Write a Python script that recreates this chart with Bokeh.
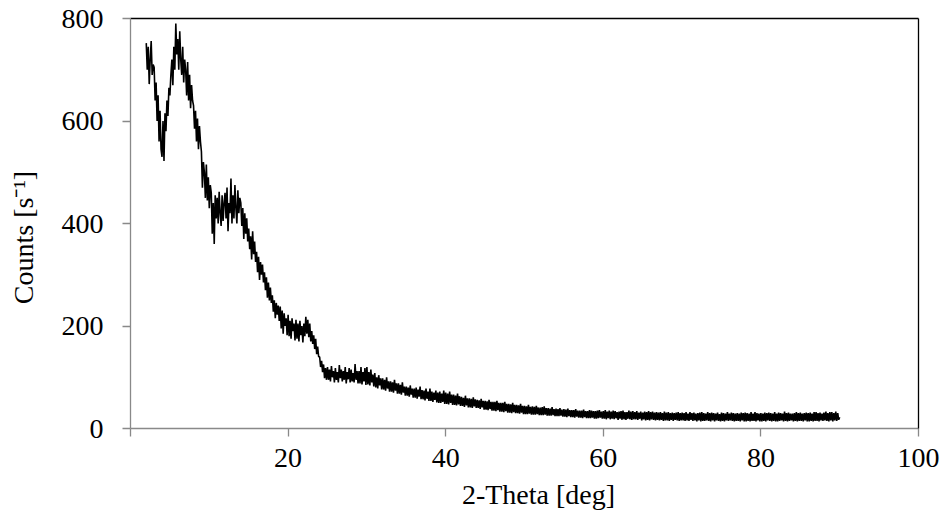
import numpy as np
from bokeh.plotting import figure
from bokeh.models import LinearAxis, FixedTicker, Range1d
from bokeh.embed import file_html
from bokeh.resources import INLINE

# Measured diffraction counts, sampled every 0.125 deg starting at 2.0 deg
theta_start = 2.0
theta_step = 0.125
counts = [
    752, 700, 745, 672, 720, 756, 690, 710,   # 2
    705, 640, 675, 600, 650, 560, 620, 545,   # 3
    530, 600, 522, 615, 580, 640, 610, 665,   # 4
    650, 690, 720, 670, 745, 700, 790, 730,   # 5
    760, 700, 775, 720, 690, 745, 675, 720,   # 6
    700, 650, 715, 640, 690, 625, 670, 640,   # 7
    630, 585, 620, 560, 605, 545, 590, 560,   # 8
    540, 470, 520, 500, 450, 515, 445, 490,   # 9
    430, 475, 460, 380, 440, 360, 455, 410,   # 10
    450, 400, 462, 420, 395, 455, 405, 440,   # 11
    460, 410, 470, 385, 440, 420, 488, 400,   # 12
    455, 410, 475, 430, 400, 465, 420, 450,   # 13
    440, 395, 430, 370, 420, 380, 410, 365,   # 14
    390, 350, 375, 330, 385, 340, 365, 325,   # 15
    345, 305, 335, 290, 325, 300, 320, 285,   # 16
    305, 270, 295, 255, 285, 250, 275, 245,   # 17
    260, 228, 250, 215, 245, 222, 240, 210,   # 18
    238, 195, 230, 185, 225, 200, 215, 182,   # 19
    222, 180, 210, 175, 215, 190, 205, 172,   # 20
    212, 175, 205, 170, 210, 182, 200, 168,   # 21
    205, 180, 218, 185, 212, 178, 205, 170,   # 22
    190, 165, 182, 155, 175, 145, 160, 140,   # 23
    140, 120, 132, 110, 125, 98, 118, 95,     # 24
    120, 95, 115, 92, 122, 100, 112, 90,      # 25
    118, 95, 110, 90, 124, 98, 115, 92,       # 26
    112, 95, 120, 88, 110, 96, 118, 90,       # 27
    115, 92, 108, 90, 126, 95, 112, 88,       # 28
    112, 88, 120, 86, 110, 92, 118, 85,       # 29
    120, 86, 110, 84, 115, 90, 105, 82,       # 30
    108, 80, 100, 78, 104, 84, 98, 76,        # 31
    98, 76, 95, 74, 100, 78, 92, 72,          # 32
    92, 72, 90, 70, 95, 74, 88, 68,           # 33
    88, 68, 85, 66, 90, 70, 82, 64,           # 34
    82, 64, 80, 62, 84, 66, 78, 60,           # 35
    78, 60, 80, 58, 76, 62, 82, 57,           # 36
    75, 57, 74, 55, 78, 58, 72, 54,           # 37
    78, 54, 72, 52, 70, 56, 74, 51,           # 38
    70, 50, 72, 50, 68, 52, 74, 48,           # 39
    70, 48, 68, 47, 72, 50, 66, 46,           # 40
    66, 46, 64, 45, 68, 47, 63, 44,           # 41
    62, 44, 60, 42, 64, 45, 59, 41,           # 42
    59, 41, 58, 40, 61, 43, 57, 40,           # 43
    56, 40, 55, 38, 58, 41, 54, 37,           # 44
    54, 37, 53, 36, 56, 38, 52, 35,           # 45
    52, 35, 52, 34, 54, 36, 50, 33,           # 46
    50, 33, 50, 32, 52, 34, 48, 31,           # 47
    48, 31, 47, 30, 50, 32, 46, 30,           # 48
    46, 30, 45, 29, 48, 31, 44, 28,           # 49
    44, 28, 43, 28, 46, 29, 42, 27,           # 50
    43, 27, 42, 27, 44, 28, 41, 26,           # 51
    41, 26, 42, 26, 43, 27, 40, 25,           # 52
    40, 25, 39, 25, 42, 26, 38, 24,           # 53
    39, 24, 38, 24, 40, 25, 37, 23,           # 54
    38, 23, 37, 22, 39, 24, 36, 22,           # 55
    36, 22, 36, 21, 38, 23, 35, 21,           # 56
    35, 21, 35, 20, 37, 22, 34, 20,           # 57
    34, 20, 36, 20, 35, 21, 34, 19,           # 58
    34, 19, 35, 20, 36, 21, 33, 19,           # 59
    34, 19, 36, 18, 33, 20, 35, 18,           # 60
    33, 19, 35, 18, 34, 20, 32, 17,           # 61
    33, 19, 34, 17, 35, 18, 32, 17,           # 62
    32, 19, 35, 18, 33, 17, 34, 18,           # 63
    32, 18, 34, 17, 31, 19, 33, 16,           # 64
    31, 18, 33, 16, 32, 17, 34, 16,           # 65
    32, 18, 33, 17, 31, 16, 32, 17,           # 66
    31, 16, 32, 17, 30, 15, 33, 16,           # 67
    31, 16, 32, 15, 30, 17, 31, 15,           # 68
    30, 17, 31, 16, 32, 15, 30, 16,           # 69
    31, 16, 30, 15, 32, 16, 29, 15,           # 70
    32, 17, 30, 15, 31, 16, 29, 14,           # 71
    30, 16, 31, 14, 32, 15, 30, 15,           # 72
    29, 16, 32, 15, 30, 14, 31, 16,           # 73
    30, 14, 29, 16, 31, 15, 28, 14,           # 74
    31, 15, 30, 14, 29, 16, 32, 15,           # 75
    29, 16, 31, 15, 30, 14, 29, 15,           # 76
    30, 15, 29, 14, 31, 16, 30, 14,           # 77
    31, 14, 30, 15, 29, 14, 32, 15,           # 78
    29, 15, 32, 14, 30, 16, 29, 14,           # 79
    30, 14, 29, 15, 31, 14, 30, 16,           # 80
    31, 15, 30, 14, 29, 15, 32, 14,           # 81
    29, 14, 31, 15, 30, 16, 29, 14,           # 82
    33, 15, 30, 14, 31, 15, 29, 16,           # 83
    29, 14, 30, 15, 32, 14, 30, 15,           # 84
    31, 15, 29, 14, 30, 16, 31, 14,           # 85
    30, 14, 31, 15, 29, 14, 32, 15,           # 86
    32, 15, 30, 14, 31, 16, 29, 15,           # 87
    31, 16, 33, 15, 30, 14, 32, 16,           # 88
    32, 14, 30, 16, 33, 15, 30, 17,           # 89
    22,                                       # 90
]
theta = [theta_start + theta_step * i for i in range(len(counts))]

x_ticks = [0, 20, 40, 60, 80, 100]
y_ticks = [0, 200, 400, 600, 800]
x_title = "\u00a0\u00a0\u00a0\u00a02-Theta [deg]"
y_title = "Counts [s\u207b\u00b9]\u00a0\u00a0\u00a0\u00a0"

FONT = "Liberation Serif"
AXIS_GRAY = "#898989"

p = figure(width=942, height=521, output_backend="svg", toolbar_location=None,
           x_range=Range1d(0, 100), y_range=Range1d(0, 800),
           min_border_left=130, min_border_right=24,
           min_border_top=18, min_border_bottom=93)

p.line(theta, counts, line_color="black", line_width=1.6)

p.grid.visible = False
p.outline_line_color = None
p.background_fill_color = "white"
p.border_fill_color = "white"

xa = p.xaxis[0]
xa.ticker = FixedTicker(ticks=x_ticks)
xa.major_label_overrides = {0: ""}
ya = p.yaxis[0]
ya.ticker = FixedTicker(ticks=y_ticks)

for ax in (xa, ya):
    ax.axis_line_color = AXIS_GRAY
    ax.axis_line_width = 1.3
    ax.major_tick_line_color = AXIS_GRAY
    ax.major_tick_line_width = 1.3
    ax.major_tick_out = 8
    ax.major_tick_in = 0
    ax.minor_tick_line_color = None
    ax.major_label_text_font = FONT
    ax.major_label_text_font_size = "28px"
    ax.major_label_text_color = "black"
    ax.axis_label_text_font = FONT
    ax.axis_label_text_font_size = "28px"
    ax.axis_label_text_font_style = "normal"
    ax.axis_label_text_color = "black"

xa.axis_label = x_title
xa.major_label_standoff = 12
xa.axis_label_standoff = 9
ya.axis_label = y_title
ya.major_label_standoff = 19
ya.axis_label_standoff = 20

for side in ("above", "right"):
    ax = LinearAxis(ticker=FixedTicker(ticks=[]), axis_line_color="black",
                    axis_line_width=1.3, major_tick_line_color=None,
                    minor_tick_line_color=None, major_label_text_font_size="0px")
    p.add_layout(ax, side)

open("out.html", "w").write(file_html(p, INLINE))
